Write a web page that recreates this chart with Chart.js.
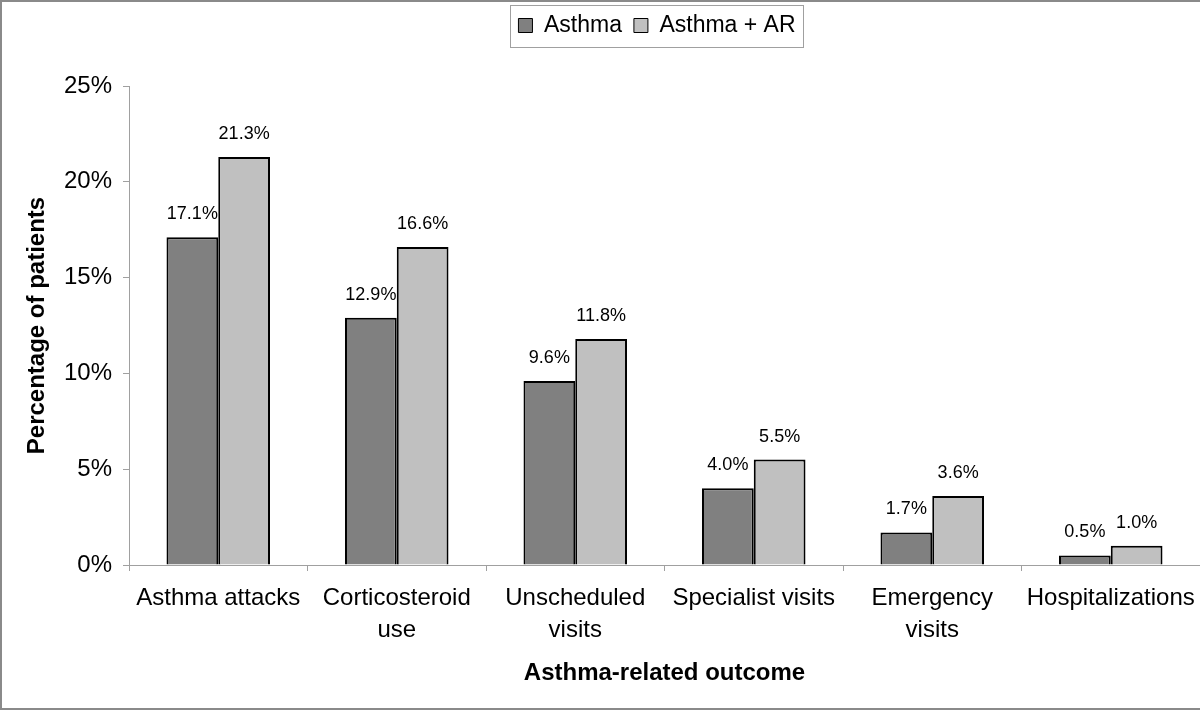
<!DOCTYPE html>
<html>
<head>
<meta charset="utf-8">
<script src="https://cdn.jsdelivr.net/npm/chart.js@4.4.0/dist/chart.umd.min.js"></script>
<style>
  html, body { margin: 0; padding: 0; background: #fff; }
  #wrap { position: relative; width: 1200px; height: 710px; box-sizing: border-box;
          border-left: 2px solid #8a8a8a; border-top: 2px solid #8a8a8a; border-bottom: 2px solid #8a8a8a; overflow: hidden; }
  canvas { display: block; }
</style>
</head>
<body>
<div id="wrap"><canvas id="c" width="1198" height="706"></canvas></div>
<script>
const categories = [
  "Asthma attacks",
  ["Corticosteroid", "use"],
  ["Unscheduled", "visits"],
  "Specialist visits",
  ["Emergency", "visits"],
  "Hospitalizations"
];
const asthma = [17.1, 12.9, 9.6, 4.0, 1.7, 0.5];
const asthmaAR = [21.3, 16.6, 11.8, 5.5, 3.6, 1.0];
const yTicks = [0, 5, 10, 15, 20, 25];

const FONT = "'Liberation Sans', Arial, sans-serif";

const valueLabels = {
  id: 'valueLabels',
  afterDatasetsDraw(chart) {
    const ctx = chart.ctx;
    ctx.save();
    ctx.font = "18px " + FONT;
    ctx.fillStyle = "#000";
    ctx.textAlign = "center";
    ctx.textBaseline = "middle";
    chart.data.datasets.forEach((ds, i) => {
      const meta = chart.getDatasetMeta(i);
      meta.data.forEach((bar, j) => {
        ctx.fillText(ds.data[j].toFixed(1) + "%", bar.x, bar.y - 23);
      });
    });
    ctx.restore();
  }
};

const legendTweak = {
  id: 'legendTweak',
  beforeInit(chart) {
    const lg = chart.legend;
    if (!lg) return;
    const origFit = lg.fit;
    lg.fit = function () {
      origFit.call(this);
      this.height += 39;
    };
  },
  afterLayout(chart) {
    const lg = chart.legend;
    if (!lg) return;
    lg.left += 56;
    lg.right += 56;
  },
  afterDraw(chart) {
    const lg = chart.legend;
    if (!lg || !lg.legendHitBoxes || !lg.legendHitBoxes.length) return;
    const hb = lg.legendHitBoxes;
    const x0 = hb[0].left - 8;
    const last = hb[hb.length - 1];
    const x1 = last.left + last.width + 8;
    const cy = hb[0].top + hb[0].height / 2;
    const ctx = chart.ctx;
    ctx.save();
    ctx.strokeStyle = "#a0a0a0";
    ctx.lineWidth = 1;
    ctx.strokeRect(Math.round(x0) + 0.5, Math.round(cy - 21) + 0.5, Math.round(x1 - x0), 42);
    ctx.restore();
  }
};

new Chart(document.getElementById('c'), {
  type: 'bar',
  data: {
    labels: categories,
    datasets: [
      { label: "Asthma", data: asthma, backgroundColor: "#808080", borderColor: "#000", borderWidth: 2, borderSkipped: 'bottom' },
      { label: "Asthma + AR", data: asthmaAR, backgroundColor: "#c0c0c0", borderColor: "#000", borderWidth: 2, borderSkipped: 'bottom' }
    ]
  },
  options: {
    responsive: false,
    animation: false,
    layout: { padding: { top: 0, right: 0, left: 0, bottom: 0 } },
    datasets: { bar: { categoryPercentage: 0.58, barPercentage: 1.0 } },
    plugins: {
      tooltip: { enabled: false },
      legend: {
        position: 'top',
        labels: {
          color: "#000",
          font: { family: FONT, size: 23 },
          boxWidth: 14, boxHeight: 14,
          padding: 12,
          generateLabels(chart) {
            return chart.data.datasets.map((ds, i) => ({
              text: ds.label, fillStyle: ds.backgroundColor, strokeStyle: "#000",
              lineWidth: 1, datasetIndex: i, hidden: false
            }));
          }
        }
      }
    },
    scales: {
      x: {
        offset: true,
        grid: { display: true, drawOnChartArea: false, drawTicks: true, tickLength: 6, color: "#a0a0a0", offset: true },
        border: { display: true, color: "#a0a0a0", width: 1 },
        ticks: { color: "#000", font: { family: FONT, size: 24, lineHeight: 1.33 }, maxRotation: 0, autoSkip: false, padding: 11 },
        title: { display: true, text: "Asthma-related outcome", color: "#000", font: { family: FONT, size: 24, weight: 'bold' }, padding: { top: 0, bottom: 20 } },
        afterFit(scale) { scale.height = 143; scale.paddingRight = 0; scale.paddingLeft = 0; }
      },
      y: {
        min: 0, max: 25,
        afterBuildTicks(scale) { scale.ticks = yTicks.map(v => ({ value: v })); },
        grid: { display: true, drawOnChartArea: false, drawTicks: true, tickLength: 6, color: "#a0a0a0" },
        border: { display: true, color: "#a0a0a0", width: 1 },
        ticks: { color: "#000", font: { family: FONT, size: 24 }, padding: 11, callback: v => v + "%" },
        title: { display: true, text: "Percentage of patients", color: "#000", font: { family: FONT, size: 24, weight: 'bold' }, padding: { top: 21, bottom: 0 } },
        afterFit(scale) { scale.width = 127; }
      }
    }
  },
  plugins: [valueLabels, legendTweak]
});
</script>
</body>
</html>
